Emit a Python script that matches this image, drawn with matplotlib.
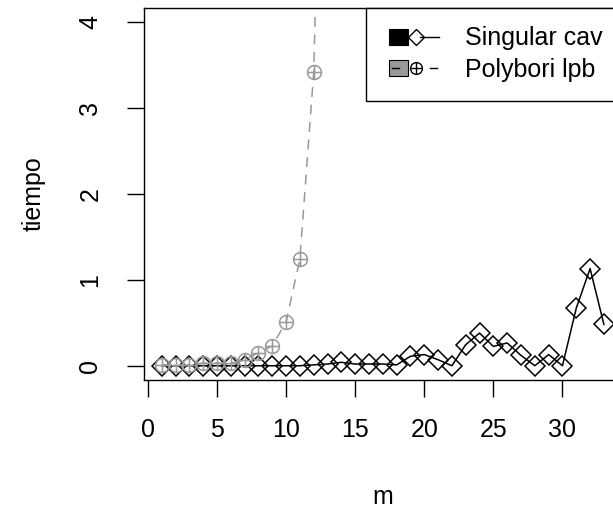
import matplotlib
matplotlib.use("Agg")
import matplotlib.pyplot as plt
import numpy as np
from matplotlib.path import Path
from matplotlib.patches import Rectangle
from matplotlib.lines import Line2D
from matplotlib.legend_handler import HandlerBase

plt.rcParams['font.family'] = ['Liberation Sans', 'DejaVu Sans']

# data
m_singular = list(range(1, 34))
t_singular = [0, 0, 0, 0, 0, 0, 0, 0, 0, 0, 0, 0.01, 0.02, 0.04, 0.02, 0.02,
              0.02, 0.01, 0.11, 0.13, 0.07, 0.0, 0.245, 0.38, 0.225, 0.265,
              0.12, 0.0, 0.13, 0.0, 0.67, 1.13, 0.48]
m_polybori = list(range(1, 14))
t_polybori = [0.01, 0.01, 0.01, 0.03, 0.03, 0.03, 0.07, 0.15, 0.23, 0.51,
              1.24, 3.41, 9.7]
labels = ["Singular cav", "Polybori lpb"]

gray = "#999999"
dash = (0, (6.5, 5))

# circle with a plus inside (R pch = 10)
circ = Path.unit_circle()
plus = Path([(-1, 0), (1, 0), (0, -1), (0, 1)],
            [Path.MOVETO, Path.LINETO, Path.MOVETO, Path.LINETO])
oplus = Path.make_compound_path(circ, plus)

fig = plt.figure(figsize=(6.13, 5.17), dpi=100)
ax = fig.add_axes([144 / 613, 1 - 379.5 / 517, (621.6 - 144) / 613, (379.5 - 8) / 517])

ax.plot(m_singular, t_singular, color="black", lw=1.1, marker="D", ms=9.7,
        mfc="none", mec="black", mew=1.1)
ax.plot(m_polybori, t_polybori, color=gray, lw=1.1, ls=dash, marker=oplus,
        ms=10, mfc="none", mec=gray, mew=1.1)

ax.set_xlim(-0.28, 34.28)
ax.set_ylim(-0.16, 4.16)
ax.set_xticks([0, 5, 10, 15, 20, 25, 30])
ax.set_yticks([0, 1, 2, 3, 4])
for s in ax.spines.values():
    s.set_linewidth(1.0)
ax.tick_params(direction="out", length=12, width=1.0, labelsize=18)
ax.tick_params(axis="x", pad=16)
ax.tick_params(axis="y", pad=18, labelrotation=90)
for lab in ax.get_yticklabels():
    lab.set_va("center")

ax.set_xlabel("m", fontsize=18)
ax.xaxis.set_label_coords(0.5, -0.317)
ax.xaxis.label.set_va("center")
ax.set_ylabel("tiempo", fontsize=18)
ax.yaxis.set_label_coords(-0.232, 0.5)
ax.yaxis.label.set_va("center")


class BoxMark(HandlerBase):
    def __init__(self, fill, marker, ms, ls):
        super().__init__()
        self.fill, self.marker, self.ms, self.ls = fill, marker, ms, ls

    def create_artists(self, legend, orig, xd, yd, width, height, fontsize, trans):
        off = 3.5
        bw, bh = 13.7, 11.5
        yc = height / 2 - yd
        x0 = -xd + off
        arts = []
        if self.ls == "-":
            ln = Line2D([x0 + 22, x0 + 36], [yc, yc], color="black", lw=1.0)
            arts.append(ln)
        rect = Rectangle((x0, yc - bh / 2), bw, bh, facecolor=self.fill,
                         edgecolor="black", lw=0.8)
        arts.append(rect)
        if self.ls != "-":
            arts.append(Line2D([x0 + 2.2, x0 + 7.2], [yc, yc], color="black", lw=1.0))
            arts.append(Line2D([x0 + 29.5, x0 + 34.5], [yc, yc], color="black", lw=1.0))
        mk = Line2D([x0 + 19], [yc], marker=self.marker, ms=self.ms, mfc="none",
                    mec="black", mew=1.0, ls="none")
        arts.append(mk)
        for a in arts:
            a.set_transform(trans)
        return arts


h1 = Line2D([], [])
h2 = Line2D([], [])
leg = ax.legend([h1, h2], labels, loc="upper right", bbox_to_anchor=(1, 1),
                borderaxespad=0, fontsize=18, frameon=True, fancybox=False,
                edgecolor="black", framealpha=1, borderpad=0.74,
                labelspacing=0.3, handlelength=2.29, handletextpad=0.95,
                handler_map={h1: BoxMark("black", "D", 8.0, "-"),
                             h2: BoxMark("#999999", oplus, 8.5, "--")})
leg.get_frame().set_linewidth(1.0)

fig.savefig("out.png", dpi=100)
